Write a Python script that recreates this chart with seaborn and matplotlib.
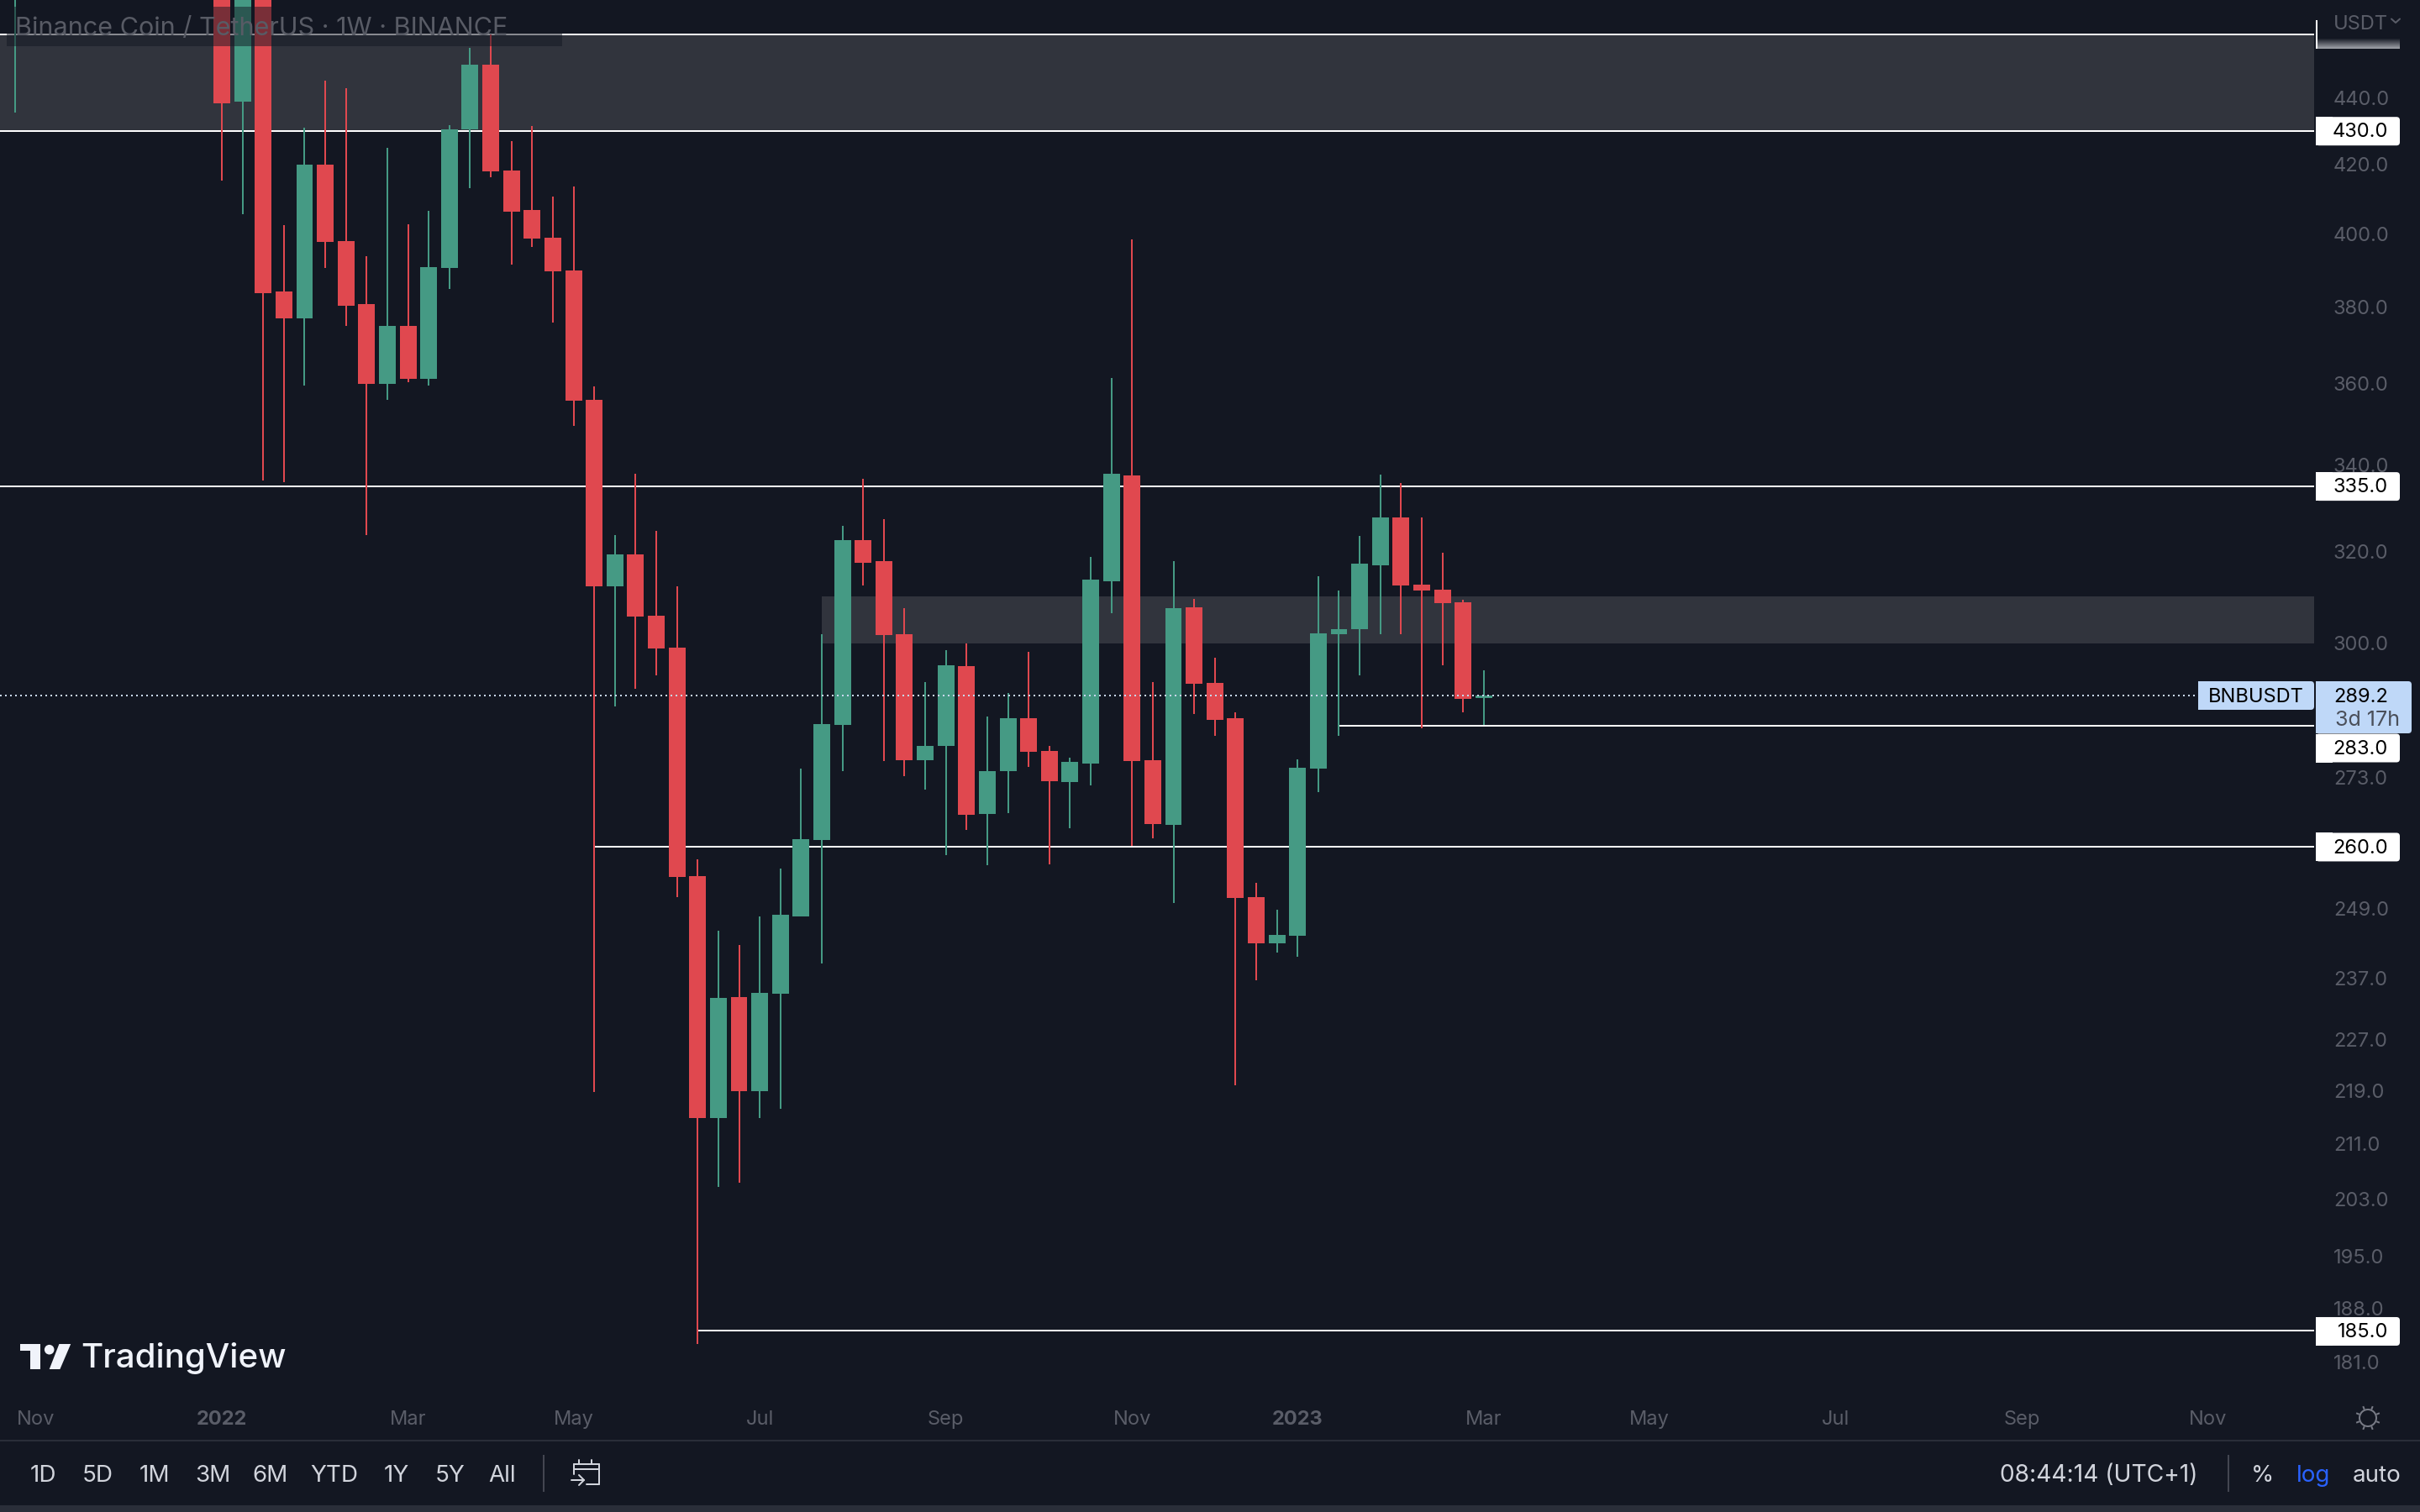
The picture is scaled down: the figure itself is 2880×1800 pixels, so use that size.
import matplotlib
matplotlib.use("Agg")
import matplotlib.pyplot as plt
from matplotlib.patches import Rectangle, FancyBboxPatch, Polygon, Circle
import numpy as np
import pandas as pd
import seaborn as sns

# ---------- data ----------
weeks = [-10] + list(range(62))
opens = [505.0,
         530.0, 438.8, 536.0, 384.1, 376.9, 419.9, 397.9, 380.7, 360.0, 374.9,
         361.3, 390.5, 430.4, 450.5, 418.2, 406.7, 398.9, 389.8, 355.9, 312.2,
         319.3, 305.8, 299.0, 254.7, 214.9, 233.9, 219.0, 234.5, 247.5, 261.2,
         283.2, 322.6, 317.7, 301.8, 276.3, 279.0, 295.2, 266.1, 274.1, 284.6,
         278.1, 272.1, 275.6, 313.3, 337.6, 276.3, 264.0, 307.6, 291.7, 284.5,
         251.0, 243.0, 244.2, 274.6, 301.9, 302.9, 316.8, 327.6, 312.5, 311.5,
         308.7, 288.6]
highs = [600.0,
         555.0, 545.0, 545.0, 402.4, 431.0, 445.4, 443.1, 393.7, 424.9, 402.7,
         406.5, 431.7, 455.8, 460.1, 426.9, 431.4, 410.6, 413.5, 359.3, 323.6,
         337.9, 324.7, 312.2, 257.7, 245.1, 242.7, 247.5, 256.0, 274.6, 301.8,
         325.7, 336.8, 327.3, 307.5, 291.9, 298.5, 299.9, 284.9, 289.7, 298.2,
         279.1, 276.8, 318.8, 361.4, 398.5, 291.9, 317.8, 309.5, 297.0, 285.8,
         253.5, 248.8, 276.4, 314.4, 311.3, 323.4, 337.7, 335.7, 327.6, 319.7,
         309.3, 294.3]
lows = [435.5,
        415.1, 405.6, 336.4, 336.0, 359.6, 390.4, 375.0, 323.6, 355.9, 360.3,
        359.6, 384.8, 412.9, 416.3, 391.3, 396.3, 375.7, 349.5, 218.8, 286.9,
        290.5, 293.3, 251.0, 183.3, 204.7, 205.3, 214.8, 216.3, 247.5, 239.5,
        274.2, 312.3, 276.1, 273.2, 270.6, 258.5, 263.1, 256.6, 266.2, 275.0,
        256.8, 263.4, 271.5, 306.3, 260.1, 261.6, 249.9, 285.4, 281.0, 219.9,
        236.7, 241.4, 240.6, 270.1, 281.0, 293.2, 301.9, 301.9, 282.6, 295.4,
        285.7, 283.2]
closes = [560.0,
          438.4, 500.1, 383.7, 376.9, 419.9, 397.7, 380.3, 360.0, 374.9, 361.3,
          390.7, 430.4, 450.5, 418.0, 406.3, 398.7, 389.5, 355.8, 312.2, 319.3,
          305.6, 298.8, 254.5, 214.9, 233.8, 219.0, 234.6, 247.8, 261.4, 283.4,
          322.6, 317.4, 301.7, 276.3, 279.1, 295.3, 265.9, 274.2, 284.6, 277.9,
          272.3, 276.0, 313.6, 337.9, 276.1, 264.1, 307.5, 291.6, 284.2, 250.8,
          243.0, 244.4, 274.8, 302.0, 302.9, 317.2, 327.6, 312.4, 311.3, 308.5,
          288.5, 289.1]

level_prices = [460.0, 430.0, 335.0, 283.0, 260.0, 185.0]
level_labels = ["460.0", "430.0", "335.0", "283.0", "260.0", "185.0"]
level_start_weeks = [None, None, None, 54, 18, 23]
zone_bottoms = [430.0, 300.0]
zone_tops = [460.0, 310.0]
zone_start_weeks = [None, 29]
last_price = 289.2
price_ticks = [440, 420, 400, 380, 360, 340, 320, 300, 273, 249, 237, 227, 219, 211, 203, 195, 188, 181]
time_ticks = [-9, 0, 9, 17, 26, 35, 44, 52, 61, 69, 78, 87, 96]
time_labels = ["Nov", "2022", "Mar", "May", "Jul", "Sep", "Nov", "2023", "Mar", "May", "Jul", "Sep", "Nov"]
range_buttons = ["1D", "5D", "1M", "3M", "6M", "YTD", "1Y", "5Y", "All"]
range_centres = [51, 116, 184, 253, 322, 398, 472, 536, 598]

# ---------- style ----------
BG = "#131722"
ZONE = "#31343D"
GREEN = "#459A84"
RED = "#E0484F"
GREY = "#5A5D68"
LIGHT = "#D1D4DC"
BLUE_LABEL = "#BFD8F8"
STRIP = "#2A2E39"
PX = 0.72  # points per pixel at dpi 100
DY = 1.7   # optical text offset, pixels

sns.set_theme(style="dark", rc={"axes.facecolor": BG, "figure.facecolor": BG, "lines.scale_dashes": False})
plt.rcParams["font.family"] = ["Inter", "DejaVu Sans"]

fig = plt.figure(figsize=(28.8, 18), dpi=100)
W, H, PANE_R, PANE_B = 2880, 1800, 2754, 1652
ax = fig.add_axes([0, 1 - PANE_B / H, PANE_R / W, PANE_B / H])
ax.set_yscale("log")

# ---------- candles ----------
df = pd.DataFrame({"week": weeks, "open": opens, "high": highs, "low": lows, "close": closes})
df["dir"] = np.where(df["close"] >= df["open"], "up", "down")
df["bottom"] = df[["open", "close"]].min(axis=1)
df["height"] = (df["close"] - df["open"]).abs()

wicks = df.melt(id_vars=["week", "dir"], value_vars=["high", "low"], value_name="price")
sns.lineplot(data=wicks, x="week", y="price", hue="dir", palette={"up": GREEN, "down": RED},
             units="week", estimator=None, legend=False, linewidth=2 * PX,
             solid_capstyle="butt", zorder=3, ax=ax)

for d, col in (("up", GREEN), ("down", RED)):
    sub = df[df["dir"] == d].sort_values("week")
    sns.barplot(data=sub, x="week", y="height", bottom=sub["bottom"].to_numpy(), native_scale=True,
                width=0.81, color=col, saturation=1, errorbar=None, linewidth=0, zorder=4, ax=ax)

XMIN, XMAX = (0 - 264) / 24.62, (PANE_R - 264) / 24.62
ax.set_xlim(XMIN, XMAX)
ax.set_ylim(430 * np.exp((155.7 - PANE_B) / 1694), 430 * np.exp(155.7 / 1694))

# ---------- zones and levels ----------
for lo, hi, st in zip(zone_bottoms, zone_tops, zone_start_weeks):
    x0 = XMIN if st is None else st
    ax.add_patch(Rectangle((x0, lo), XMAX - x0, hi - lo, facecolor=ZONE, edgecolor="none", zorder=1))
for p, st in zip(level_prices, level_start_weeks):
    ax.hlines(p, XMIN if st is None else st, XMAX, color="white", linewidth=2 * PX, zorder=2)
ax.plot([XMIN, (2616 - 264) / 24.62], [last_price, last_price], color="#C9D8F0", linewidth=2 * PX,
        dashes=(2 * PX, 4 * PX), dash_capstyle="butt", zorder=5)

# ---------- axes ----------
for s in ax.spines.values():
    s.set_visible(False)
ax.set_xlabel("")
ax.set_ylabel("")
ax.yaxis.tick_right()
ax.set_yticks(price_ticks)
ax.set_yticklabels([f"{t:.1f}" for t in price_ticks])
ax.set_xticks(time_ticks)
ax.set_xticklabels(time_labels)
ax.minorticks_off()
ax.tick_params(axis="y", length=0, pad=23 * PX, labelsize=17, labelcolor=GREY)
ax.tick_params(axis="x", length=0, pad=27 * PX, labelsize=17, labelcolor=GREY)
for lab in ax.get_xticklabels():
    if lab.get_text() in ("2022", "2023"):
        lab.set_fontweight("bold")

# ---------- interface layer (pixel coordinates of the screenshot) ----------
ui = fig.add_axes([0, 0, 1, 1], zorder=10)
ui.set_xlim(0, W)
ui.set_ylim(H, 0)
ui.axis("off")
ui.patch.set_visible(False)


def ypx(price):
    return H - ax.transData.transform((0, price))[1]


def rect(x0, y0, x1, y1, color, alpha=1.0):
    ui.add_patch(Rectangle((x0, y0), x1 - x0, y1 - y0, facecolor=color, edgecolor="none", alpha=alpha))


def label_box(x0, y0, x1, y1, color):
    ui.add_patch(FancyBboxPatch((x0 + 4, y0 + 4), x1 - x0 - 8, y1 - y0 - 8, boxstyle="round,pad=4,rounding_size=4",
                                facecolor=color, edgecolor="none", mutation_aspect=1))
    rect(x0, y0, x0 + 20, y1, color)


def txt(x, y, s, **kw):
    ui.text(x, y + DY, s, va="center", **kw)


# title watermark
rect(8, 8, 669, 55, BG, 0.5)
txt(18, 32, "Binance Coin / TetherUS · 1W · BINANCE", fontsize=22, color="#585B65", ha="left")

# top faded level label with the currency selector
for k in range(12):
    rect(2757, 46 + k, 2856, 47 + k, "#C4C6CC", alpha=(k + 1) / 13 * 0.85)
rect(2756, 24, 2758, 58, "white")
txt(2777, 27, "USDT", fontsize=17, color=GREY, ha="left")
ui.plot([2846, 2851, 2856], [22.5, 27, 22.5], color=GREY, lw=2 * PX, solid_capstyle="round")

# level labels
for lab, p in zip(level_labels, level_prices):
    if lab == "460.0":
        continue
    yc = ypx(p)
    if lab == "283.0":
        yc = 890
    label_box(2756, yc - 16.5, 2856, yc + 17.5, "white")
    txt(2842, yc, lab, fontsize=17, color="black", ha="right")

# last price labels
label_box(2616, 811, 2754, 845, BLUE_LABEL)
txt(2685, 828, "BNBUSDT", fontsize=17, color="black", ha="center")
label_box(2756, 811, 2870, 873, BLUE_LABEL)
txt(2842, 828, f"{last_price:.1f}", fontsize=17, color="black", ha="right")
txt(2856, 856, "3d 17h", fontsize=18, color="#4A4F5A", ha="right")

# logo
logo = "#F0F3FA"
ui.add_patch(Polygon([(24, 1600), (47.5, 1600), (47.5, 1630), (36, 1630), (36, 1608), (24, 1608)], facecolor=logo, edgecolor="none"))
ui.add_patch(Circle((58.7, 1606.7), 5.8, facecolor=logo, edgecolor="none"))
ui.add_patch(Polygon([(70.4, 1600), (84.2, 1600), (71.4, 1630), (58.7, 1630)], facecolor=logo, edgecolor="none"))
ui.text(96, 1617, "TradingView", fontsize=29, color=logo, va="center", ha="left", fontweight="medium")

# settings icon
cx, cy = 2818, 1688
ui.add_patch(Circle((cx, cy), 10, facecolor="none", edgecolor="#787B86", linewidth=2 * PX))
for a in np.arange(8) * np.pi / 4 + np.pi / 8:
    ui.plot([cx + 11 * np.cos(a), cx + 15 * np.cos(a)], [cy + 11 * np.sin(a), cy + 15 * np.sin(a)],
            color="#787B86", lw=2 * PX, solid_capstyle="butt")

# toolbar
rect(0, 1714, W, 1716, STRIP)
rect(0, 1792, W, H, STRIP)
for name, xc in zip(range_buttons, range_centres):
    txt(xc, 1755, name, fontsize=20, color=LIGHT, ha="center")
rect(646, 1732, 648, 1776, "#434651")
rect(2651, 1732, 2653, 1776, "#434651")
txt(2498, 1755, "08:44:14 (UTC+1)", fontsize=20.3, color=LIGHT, ha="center")
txt(2692, 1755, "%", fontsize=20, color=LIGHT, ha="center")
txt(2753, 1755, "log", fontsize=20, color="#2962FF", ha="center")
txt(2829, 1755, "auto", fontsize=20, color=LIGHT, ha="center")

# calendar icon
ic = dict(color=LIGHT, lw=2 * PX, solid_capstyle="round")
ui.plot([683, 683], [1755, 1743], **ic)
ui.plot([683, 713], [1743, 1743], **ic)
ui.plot([713, 713], [1743, 1767], **ic)
ui.plot([713, 698], [1767, 1767], **ic)
ui.plot([683, 713], [1749, 1749], **ic)
ui.plot([689, 689], [1738, 1743], **ic)
ui.plot([704, 704], [1738, 1743], **ic)
ui.plot([680, 695], [1762, 1762], **ic)
ui.plot([689, 695, 689], [1756, 1762, 1768], **ic)
ui.set_xlim(0, W)
ui.set_ylim(H, 0)

fig.savefig("out.png", dpi=100, facecolor=BG)
